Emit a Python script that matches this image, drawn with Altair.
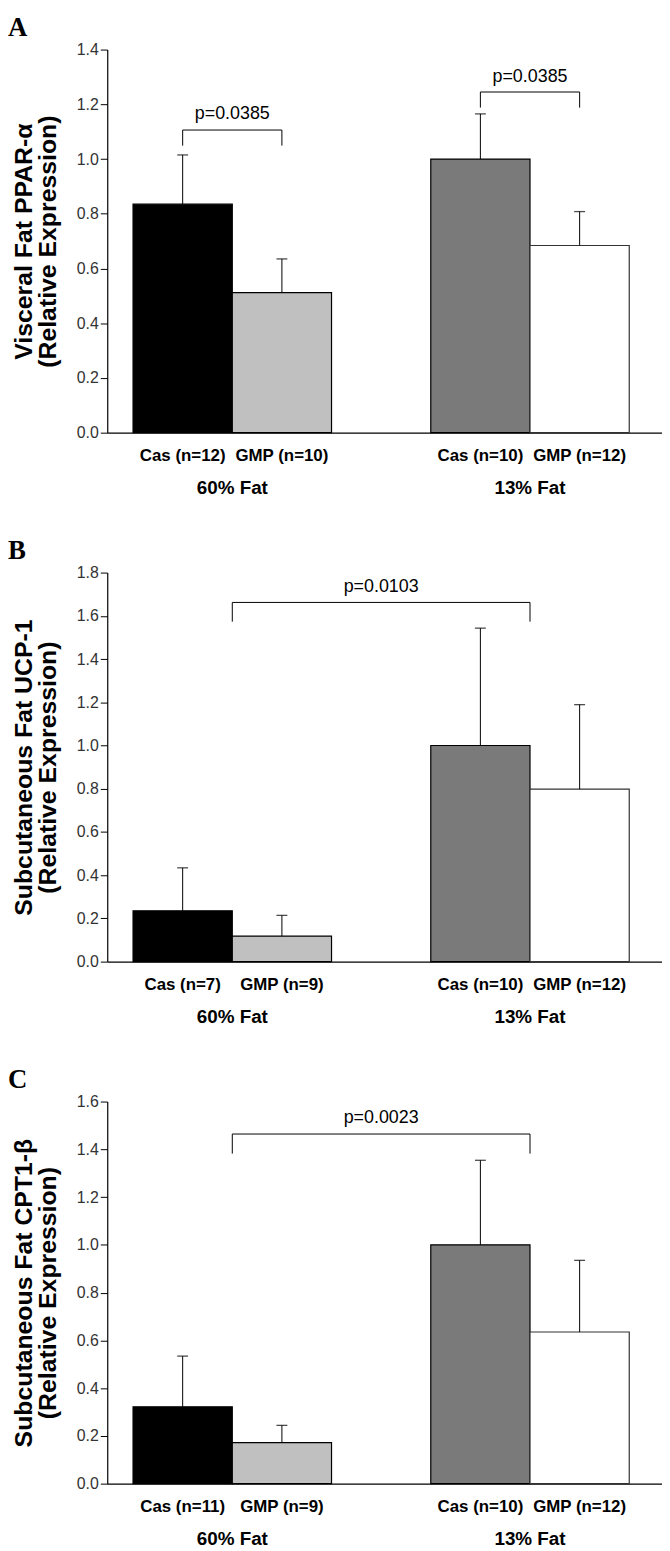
import altair as alt
import pandas as pd

# ---------------- data ----------------
groups = ["60% Fat", "13% Fat"]
diets = ["Cas", "GMP"]
bar_colors = ["#000000", "#c0c0c0", "#7a7a7a", "#ffffff"]

# Panel A
a_means = [0.835, 0.512, 1.0, 0.684]
a_err = [1.015, 0.635, 1.165, 0.808]
a_n = [12, 10, 10, 12]
# Panel B
b_means = [0.235, 0.118, 1.0, 0.798]
b_err = [0.434, 0.214, 1.543, 1.189]
b_n = [7, 9, 10, 12]
# Panel C
c_means = [0.322, 0.172, 1.0, 0.635]
c_err = [0.534, 0.244, 1.354, 0.935]
c_n = [11, 9, 10, 12]

# brackets: (from bar, to bar, top, leg bottom, label, label y)
a_brackets = [((0, 1), 1.106, 1.049, "p=0.0385", 1.165),
              ((2, 3), 1.245, 1.188, "p=0.0385", 1.30)]
b_brackets = [(("g0", "g1"), 1.662, 1.573, "p=0.0103", 1.732)]
c_brackets = [(("g0", "g1"), 1.464, 1.382, "p=0.0023", 1.53)]

SANS = "'Liberation Sans', Arial, sans-serif"
SERIF = "'Liberation Serif', 'Times New Roman', serif"

W = 559
XDOM = [-0.26, 5.33]


def bar_pos(i):
    g, s = divmod(i, 2)
    return g * 3 + s


def panel(letter, title_lines, ymax, means, errs, ns, brackets, h):
    rows = []
    for i in range(4):
        g, s = divmod(i, 2)
        p = bar_pos(i)
        rows.append(dict(x=p, x2=p + 1, xc=p + 0.5, mean=means[i], err=errs[i],
                         fill=bar_colors[i],
                         stroke="#000000" if i < 3 else "#333333",
                         lab=f"{diets[s]} (n={ns[i]})"))
    df = pd.DataFrame(rows)
    gdf = pd.DataFrame({"gx": [g * 3 + 1 for g in range(2)], "glab": groups})

    brows = []
    for (frm, to), top, bot, lab, ty in brackets:
        if isinstance(frm, str):
            x1 = int(frm[1]) * 3 + 1
            x2 = int(to[1]) * 3 + 1
        else:
            x1 = bar_pos(frm) + 0.5
            x2 = bar_pos(to) + 0.5
        brows.append(dict(x1=x1, x2=x2, top=top, bot=bot, lab=lab, ty=ty, xm=(x1 + x2) / 2))
    bdf = pd.DataFrame(brows)

    xs = alt.Scale(domain=XDOM, nice=False, zero=False)
    ys = alt.Scale(domain=[0, ymax], nice=False)
    ticks = [round(k * 0.2, 1) for k in range(int(round(ymax / 0.2)) + 1)]

    base = alt.Chart(df)
    bars = base.mark_bar(strokeWidth=1.2).encode(
        x=alt.X("x:Q", scale=xs, axis=alt.Axis(labels=False, ticks=False, grid=False,
                                                title=None, domainColor="#000000",
                                                domainWidth=1.2)),
        x2="x2:Q",
        y=alt.Y("mean:Q", scale=ys, axis=alt.Axis(
            values=ticks, format=".1f", tickSize=7, tickColor="#000000", domainColor="#000000",
            domainWidth=1.2, grid=False, labelFont=SANS, labelFontSize=16, labelColor="#333333",
            labelPadding=2, title=title_lines, titleFont=SANS, titleFontWeight="bold",
            titleFontSize=25, titleColor="#000000", titlePadding=16, titleLineHeight=24)),
        y2=alt.datum(0),
        fill=alt.Fill("fill:N", scale=None),
        stroke=alt.Stroke("stroke:N", scale=None),
    )
    err_rule = base.mark_rule(color="#000000", strokeWidth=1).encode(
        x=alt.X("xc:Q", scale=xs), y=alt.Y("mean:Q", scale=ys), y2="err:Q")
    err_cap = base.mark_tick(color="#000000", orient="horizontal", size=11, thickness=1.3).encode(
        x=alt.X("xc:Q", scale=xs), y=alt.Y("err:Q", scale=ys))
    xlab = base.mark_text(font=SANS, fontSize=17, fontWeight="bold", color="#000000",
                          baseline="middle").encode(
        x=alt.X("xc:Q", scale=xs), y=alt.value(h + 24), text="lab:N")
    glab = alt.Chart(gdf).mark_text(font=SANS, fontSize=19, fontWeight="bold", color="#000000",
                                    baseline="middle").encode(
        x=alt.X("gx:Q", scale=xs), y=alt.value(h + 56), text="glab:N")

    bb = alt.Chart(bdf)
    b_top = bb.mark_rule(color="#000000", strokeWidth=1).encode(
        x=alt.X("x1:Q", scale=xs), x2="x2:Q", y=alt.Y("top:Q", scale=ys))
    b_l = bb.mark_rule(color="#000000", strokeWidth=1).encode(
        x=alt.X("x1:Q", scale=xs), y=alt.Y("bot:Q", scale=ys), y2="top:Q")
    b_r = bb.mark_rule(color="#000000", strokeWidth=1).encode(
        x=alt.X("x2:Q", scale=xs), y=alt.Y("bot:Q", scale=ys), y2="top:Q")
    b_t = bb.mark_text(font=SANS, fontSize=18, color="#000000", baseline="middle").encode(
        x=alt.X("xm:Q", scale=xs), y=alt.Y("ty:Q", scale=ys), text="lab:N")

    let = alt.Chart(pd.DataFrame({"t": [letter]})).mark_text(
        font=SERIF, fontSize=27, fontWeight="bold", color="#000000", align="left",
        baseline="alphabetic").encode(x=alt.value(-100), y=alt.value(-14), text="t:N")

    return alt.layer(bars, err_rule, err_cap, b_top, b_l, b_r, b_t, xlab, glab, let).properties(
        width=W, height=h)


pa = panel("A", ["Visceral Fat PPAR-α", "(Relative Expression)"], 1.4,
           a_means, a_err, a_n, a_brackets, 386)
pb = panel("B", ["Subcutaneous Fat UCP-1", "(Relative Expression)"], 1.8,
           b_means, b_err, b_n, b_brackets, 392)
pc = panel("C", ["Subcutaneous Fat CPT1-β", "(Relative Expression)"], 1.6,
           c_means, c_err, c_n, c_brackets, 385)

chart = alt.vconcat(pa, pb, pc, spacing=141, bounds="flush").configure_view(
    stroke=None).properties(padding=0, background="#ffffff")

chart.save("out.html", embed_options={"renderer": "svg", "actions": False})
